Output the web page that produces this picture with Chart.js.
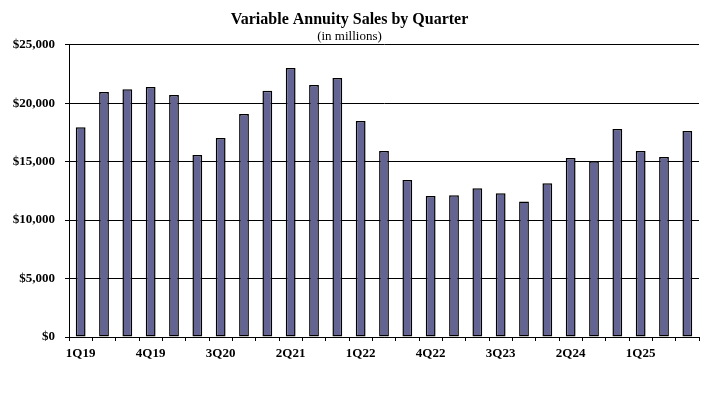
<!DOCTYPE html>
<html>
<head>
<meta charset="utf-8">
<script src="https://cdn.jsdelivr.net/npm/chart.js@4/dist/chart.umd.min.js"></script>
<style>
  html, body { margin: 0; padding: 0; background: #fff; }
  #wrap { width: 720px; height: 398px; }
</style>
</head>
<body>
<div id="wrap"><canvas id="canvas" width="720" height="398"></canvas></div>
<script>
const quarters = ['1Q19','2Q19','3Q19','4Q19','1Q20','2Q20','3Q20','4Q20','1Q21','2Q21','3Q21','4Q21',
                  '1Q22','2Q22','3Q22','4Q22','1Q23','2Q23','3Q23','4Q23','1Q24','2Q24','3Q24','4Q24',
                  '1Q25','2Q25','3Q25'];
const sales = [17950, 20950, 21200, 21380, 20690, 15560, 17010, 19070, 21060, 23000, 21550, 22150,
               18470, 15900, 13420, 12050, 12130, 12730, 12300, 11590, 13160, 15300, 15040, 17780,
               15900, 15390, 17610];
const yTicks = [0, 5000, 10000, 15000, 20000, 25000];

const serif = '"Liberation Serif", "Times New Roman", serif';

const data = {
    labels: quarters,
    datasets: [
        {
            label: 'Variable Annuity Sales',
            data: sales,
            backgroundColor: '#646494',
            borderColor: '#000',
            borderWidth: 1.5,
            borderSkipped: false,
            categoryPercentage: 1,
            barPercentage: 0.42
        }
    ]
}

const config = {
    type: 'bar',
    data: data,
    options: {
        responsive: false,
        animation: false,
        layout: { padding: { left: 0, right: 21, top: 0, bottom: 0 } },
        plugins: {
            legend: { display: false },
            tooltip: { enabled: false },
            title: {
                display: true,
                text: 'Variable Annuity Sales by Quarter',
                color: '#000',
                font: { family: serif, size: 16, weight: 'bold', lineHeight: 1.15 },
                padding: { top: 11, bottom: 0 }
            },
            subtitle: {
                display: true,
                text: '(in millions)',
                color: '#000',
                font: { family: serif, size: 13, weight: 'normal', lineHeight: 1.1 },
                padding: { top: 0, bottom: 1 }
            }
        },
        scales: {
            x: {
                offset: true,
                afterFit: function(scale) { scale.height = 61; },
                grid: {
                    offset: true,
                    drawOnChartArea: false,
                    drawTicks: true,
                    tickLength: 4,
                    color: '#000'
                },
                border: { display: true, color: '#000', width: 1 },
                ticks: {
                    autoSkip: false,
                    maxRotation: 0,
                    padding: 5,
                    color: '#000',
                    font: { family: serif, size: 13, weight: 'bold' },
                    callback: function(value, index) {
                        return index % 3 === 0 ? quarters[index] : '';
                    }
                }
            },
            y: {
                min: 0,
                max: 25000,
                afterFit: function(scale) { scale.width = 69; },
                afterBuildTicks: function(scale) {
                    scale.ticks = yTicks.map(v => ({ value: v }));
                },
                grid: {
                    color: '#000',
                    lineWidth: 1,
                    drawTicks: true,
                    tickLength: 4
                },
                border: { display: true, color: '#000', width: 1 },
                ticks: {
                    padding: 10,
                    color: '#000',
                    font: { family: serif, size: 13, weight: 'bold' },
                    callback: function(value) {
                        return '$' + value.toLocaleString('en-US');
                    }
                }
            }
        }
    }
}

const canvas = document.getElementById('canvas');
const chart = new Chart(canvas, config);
</script>
</body>
</html>
